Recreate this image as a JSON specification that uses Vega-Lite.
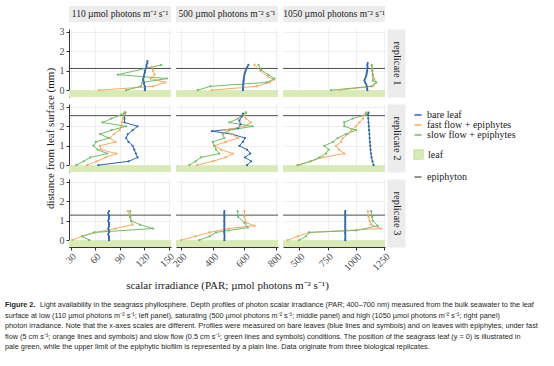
{
"$schema": "https://vega.github.io/schema/vega-lite/v6.json",
"padding": {"left": 5, "top": 5, "right": 5, "bottom": 5},
"background": "white",
"config": {
 "view": {"stroke": null},
 "font": "Liberation Serif",
 "axis": {"labelFont": "Liberation Serif", "labelFontSize": 10, "labelColor": "#4d4d4d", "titleFont": "Liberation Serif", "titleFontSize": 11, "titleFontWeight": "normal", "titleColor": "#1a1a1a", "domainColor": "#333333", "tickColor": "#333333", "tickSize": 3, "gridColor": "#ebebeb", "gridWidth": 0.8, "format": "d"},
 "legend": {"labelFont": "Liberation Serif", "labelFontSize": 10, "labelColor": "#1a1a1a", "rowPadding": -1.5}
},
"datasets": {
 "leaf": [{"surface": "leaf", "d": 0}],
 "epi": [{"rep": 1, "d": 1.12, "layer": "epiphyton"}, {"rep": 2, "d": 2.55, "layer": "epiphyton"}, {"rep": 3, "d": 1.29, "layer": "epiphyton"}],
 "strips": [{"light": 110, "label": "110 µmol photons m⁻² s⁻¹"}, {"light": 500, "label": "500 µmol photons m⁻² s⁻¹"}, {"light": 1050, "label": "1050 µmol photons m⁻² s⁻¹"}],
 "caption": [
  {"line": 1, "part": "head", "text": "Figure 2."},
  {"line": 1, "part": "first", "text": "Light availability in the seagrass phyllosphere. Depth profiles of photon scalar irradiance (PAR; 400–700 nm) measured from the bulk seawater to the leaf"},
  {"line": 2, "part": "body", "text": "surface at low (110 µmol photons m⁻² s⁻¹; left panel), saturating (500 µmol photons m⁻² s⁻¹; middle panel) and high (1050 µmol photons m⁻² s⁻¹; right panel)"},
  {"line": 3, "part": "body", "text": "photon irradiance. Note that the x-axes scales are different. Profiles were measured on bare leaves (blue lines and symbols) and on leaves with epiphytes, under fast"},
  {"line": 4, "part": "body", "text": "flow (5 cm s⁻¹; orange lines and symbols) and slow flow (0.5 cm s⁻¹; green lines and symbols) conditions. The position of the seagrass leaf (y = 0) is illustrated in"},
  {"line": 5, "part": "body", "text": "pale green, while the upper limit of the epiphytic biofilm is represented by a plain line. Data originate from three biological replicates."}
 ],
 "prof": [
  {"light":110,"rep":1,"series":"bare leaf","d":0,"par":121},{"light":110,"rep":1,"series":"bare leaf","d":0.1,"par":121},{"light":110,"rep":1,"series":"bare leaf","d":0.2,"par":121},{"light":110,"rep":1,"series":"bare leaf","d":0.3,"par":120},{"light":110,"rep":1,"series":"bare leaf","d":0.4,"par":120},{"light":110,"rep":1,"series":"bare leaf","d":0.5,"par":119},{"light":110,"rep":1,"series":"bare leaf","d":0.6,"par":119},{"light":110,"rep":1,"series":"bare leaf","d":0.7,"par":120},{"light":110,"rep":1,"series":"bare leaf","d":0.8,"par":120},{"light":110,"rep":1,"series":"bare leaf","d":0.9,"par":121},{"light":110,"rep":1,"series":"bare leaf","d":1.0,"par":121},{"light":110,"rep":1,"series":"bare leaf","d":1.1,"par":122},{"light":110,"rep":1,"series":"bare leaf","d":1.2,"par":123},{"light":110,"rep":1,"series":"bare leaf","d":1.3,"par":123},{"light":110,"rep":1,"series":"bare leaf","d":1.4,"par":124},{"light":110,"rep":1,"series":"bare leaf","d":1.5,"par":124},
  {"light":110,"rep":1,"series":"fast flow + epiphytes","d":0,"par":65},{"light":110,"rep":1,"series":"fast flow + epiphytes","d":0.2,"par":131},{"light":110,"rep":1,"series":"fast flow + epiphytes","d":0.4,"par":146},{"light":110,"rep":1,"series":"fast flow + epiphytes","d":0.6,"par":128},{"light":110,"rep":1,"series":"fast flow + epiphytes","d":0.8,"par":133},{"light":110,"rep":1,"series":"fast flow + epiphytes","d":1.0,"par":131},{"light":110,"rep":1,"series":"fast flow + epiphytes","d":1.2,"par":129},
  {"light":110,"rep":1,"series":"slow flow + epiphytes","d":0,"par":98},{"light":110,"rep":1,"series":"slow flow + epiphytes","d":0.2,"par":116},{"light":110,"rep":1,"series":"slow flow + epiphytes","d":0.4,"par":118},{"light":110,"rep":1,"series":"slow flow + epiphytes","d":0.6,"par":148},{"light":110,"rep":1,"series":"slow flow + epiphytes","d":0.8,"par":88},{"light":110,"rep":1,"series":"slow flow + epiphytes","d":1.3,"par":141},
  {"light":500,"rep":1,"series":"bare leaf","d":0,"par":590},{"light":500,"rep":1,"series":"bare leaf","d":0.1,"par":590},{"light":500,"rep":1,"series":"bare leaf","d":0.2,"par":591},{"light":500,"rep":1,"series":"bare leaf","d":0.3,"par":592},{"light":500,"rep":1,"series":"bare leaf","d":0.4,"par":593},{"light":500,"rep":1,"series":"bare leaf","d":0.5,"par":595},{"light":500,"rep":1,"series":"bare leaf","d":0.6,"par":596},{"light":500,"rep":1,"series":"bare leaf","d":0.7,"par":598},{"light":500,"rep":1,"series":"bare leaf","d":0.8,"par":600},{"light":500,"rep":1,"series":"bare leaf","d":0.9,"par":603},{"light":500,"rep":1,"series":"bare leaf","d":1.0,"par":607},{"light":500,"rep":1,"series":"bare leaf","d":1.1,"par":612},{"light":500,"rep":1,"series":"bare leaf","d":1.2,"par":618},{"light":500,"rep":1,"series":"bare leaf","d":1.3,"par":625},
  {"light":500,"rep":1,"series":"fast flow + epiphytes","d":0,"par":393},{"light":500,"rep":1,"series":"fast flow + epiphytes","d":0.2,"par":679},{"light":500,"rep":1,"series":"fast flow + epiphytes","d":0.4,"par":760},{"light":500,"rep":1,"series":"fast flow + epiphytes","d":0.55,"par":787},{"light":500,"rep":1,"series":"fast flow + epiphytes","d":0.7,"par":747},{"light":500,"rep":1,"series":"fast flow + epiphytes","d":1.0,"par":700},{"light":500,"rep":1,"series":"fast flow + epiphytes","d":1.3,"par":663},
  {"light":500,"rep":1,"series":"slow flow + epiphytes","d":0,"par":304},{"light":500,"rep":1,"series":"slow flow + epiphytes","d":0.2,"par":384},{"light":500,"rep":1,"series":"slow flow + epiphytes","d":0.4,"par":740},{"light":500,"rep":1,"series":"slow flow + epiphytes","d":0.6,"par":790},{"light":500,"rep":1,"series":"slow flow + epiphytes","d":0.8,"par":750},{"light":500,"rep":1,"series":"slow flow + epiphytes","d":1.05,"par":705},{"light":500,"rep":1,"series":"slow flow + epiphytes","d":1.3,"par":688},
  {"light":1050,"rep":1,"series":"bare leaf","d":0,"par":1100},{"light":1050,"rep":1,"series":"bare leaf","d":0.1,"par":1098},{"light":1050,"rep":1,"series":"bare leaf","d":0.2,"par":1095},{"light":1050,"rep":1,"series":"bare leaf","d":0.3,"par":1090},{"light":1050,"rep":1,"series":"bare leaf","d":0.4,"par":1080},{"light":1050,"rep":1,"series":"bare leaf","d":0.5,"par":1074},{"light":1050,"rep":1,"series":"bare leaf","d":0.6,"par":1080},{"light":1050,"rep":1,"series":"bare leaf","d":0.7,"par":1088},{"light":1050,"rep":1,"series":"bare leaf","d":0.8,"par":1092},{"light":1050,"rep":1,"series":"bare leaf","d":0.9,"par":1095},{"light":1050,"rep":1,"series":"bare leaf","d":1.0,"par":1098},{"light":1050,"rep":1,"series":"bare leaf","d":1.1,"par":1100},{"light":1050,"rep":1,"series":"bare leaf","d":1.2,"par":1102},{"light":1050,"rep":1,"series":"bare leaf","d":1.3,"par":1100},{"light":1050,"rep":1,"series":"bare leaf","d":1.4,"par":1103},
  {"light":1050,"rep":1,"series":"fast flow + epiphytes","d":0,"par":850},{"light":1050,"rep":1,"series":"fast flow + epiphytes","d":0.2,"par":1150},{"light":1050,"rep":1,"series":"fast flow + epiphytes","d":0.4,"par":1177},{"light":1050,"rep":1,"series":"fast flow + epiphytes","d":0.6,"par":1160},{"light":1050,"rep":1,"series":"fast flow + epiphytes","d":0.8,"par":1150},{"light":1050,"rep":1,"series":"fast flow + epiphytes","d":1.0,"par":1145},{"light":1050,"rep":1,"series":"fast flow + epiphytes","d":1.2,"par":1140},
  {"light":1050,"rep":1,"series":"slow flow + epiphytes","d":0,"par":780},{"light":1050,"rep":1,"series":"slow flow + epiphytes","d":0.2,"par":1133},{"light":1050,"rep":1,"series":"slow flow + epiphytes","d":0.4,"par":1177},{"light":1050,"rep":1,"series":"slow flow + epiphytes","d":0.5,"par":1148},{"light":1050,"rep":1,"series":"slow flow + epiphytes","d":0.8,"par":1146},{"light":1050,"rep":1,"series":"slow flow + epiphytes","d":1.0,"par":1143},{"light":1050,"rep":1,"series":"slow flow + epiphytes","d":1.3,"par":1139},
  {"light":110,"rep":2,"series":"bare leaf","d":0,"par":64},{"light":110,"rep":2,"series":"bare leaf","d":0.2,"par":101},{"light":110,"rep":2,"series":"bare leaf","d":0.4,"par":112},{"light":110,"rep":2,"series":"bare leaf","d":0.6,"par":110},{"light":110,"rep":2,"series":"bare leaf","d":0.8,"par":108},{"light":110,"rep":2,"series":"bare leaf","d":1.0,"par":106},{"light":110,"rep":2,"series":"bare leaf","d":1.2,"par":101},{"light":110,"rep":2,"series":"bare leaf","d":1.4,"par":98},{"light":110,"rep":2,"series":"bare leaf","d":1.6,"par":100},{"light":110,"rep":2,"series":"bare leaf","d":1.8,"par":106},{"light":110,"rep":2,"series":"bare leaf","d":2.0,"par":112},{"light":110,"rep":2,"series":"bare leaf","d":2.2,"par":96},{"light":110,"rep":2,"series":"bare leaf","d":2.4,"par":96},{"light":110,"rep":2,"series":"bare leaf","d":2.6,"par":96},{"light":110,"rep":2,"series":"bare leaf","d":2.7,"par":97},
  {"light":110,"rep":2,"series":"fast flow + epiphytes","d":0,"par":50},{"light":110,"rep":2,"series":"fast flow + epiphytes","d":0.2,"par":62},{"light":110,"rep":2,"series":"fast flow + epiphytes","d":0.4,"par":73},{"light":110,"rep":2,"series":"fast flow + epiphytes","d":0.6,"par":86},{"light":110,"rep":2,"series":"fast flow + epiphytes","d":0.8,"par":67},{"light":110,"rep":2,"series":"fast flow + epiphytes","d":1.0,"par":66},{"light":110,"rep":2,"series":"fast flow + epiphytes","d":1.2,"par":85},{"light":110,"rep":2,"series":"fast flow + epiphytes","d":1.4,"par":78},{"light":110,"rep":2,"series":"fast flow + epiphytes","d":1.6,"par":83},{"light":110,"rep":2,"series":"fast flow + epiphytes","d":1.8,"par":90},{"light":110,"rep":2,"series":"fast flow + epiphytes","d":2.0,"par":92},{"light":110,"rep":2,"series":"fast flow + epiphytes","d":2.2,"par":93},{"light":110,"rep":2,"series":"fast flow + epiphytes","d":2.4,"par":94},{"light":110,"rep":2,"series":"fast flow + epiphytes","d":2.6,"par":96},{"light":110,"rep":2,"series":"fast flow + epiphytes","d":2.7,"par":97},
  {"light":110,"rep":2,"series":"slow flow + epiphytes","d":0,"par":37},{"light":110,"rep":2,"series":"slow flow + epiphytes","d":0.2,"par":46},{"light":110,"rep":2,"series":"slow flow + epiphytes","d":0.4,"par":54},{"light":110,"rep":2,"series":"slow flow + epiphytes","d":0.6,"par":75},{"light":110,"rep":2,"series":"slow flow + epiphytes","d":0.8,"par":63},{"light":110,"rep":2,"series":"slow flow + epiphytes","d":1.0,"par":58},{"light":110,"rep":2,"series":"slow flow + epiphytes","d":1.2,"par":61},{"light":110,"rep":2,"series":"slow flow + epiphytes","d":1.4,"par":77},{"light":110,"rep":2,"series":"slow flow + epiphytes","d":1.6,"par":66},{"light":110,"rep":2,"series":"slow flow + epiphytes","d":1.8,"par":80},{"light":110,"rep":2,"series":"slow flow + epiphytes","d":2.0,"par":98},{"light":110,"rep":2,"series":"slow flow + epiphytes","d":2.2,"par":69},{"light":110,"rep":2,"series":"slow flow + epiphytes","d":2.4,"par":80},{"light":110,"rep":2,"series":"slow flow + epiphytes","d":2.6,"par":92},{"light":110,"rep":2,"series":"slow flow + epiphytes","d":2.7,"par":96},
  {"light":500,"rep":2,"series":"bare leaf","d":0,"par":616},{"light":500,"rep":2,"series":"bare leaf","d":0.2,"par":642},{"light":500,"rep":2,"series":"bare leaf","d":0.4,"par":604},{"light":500,"rep":2,"series":"bare leaf","d":0.6,"par":637},{"light":500,"rep":2,"series":"bare leaf","d":0.8,"par":616},{"light":500,"rep":2,"series":"bare leaf","d":1.0,"par":568},{"light":500,"rep":2,"series":"bare leaf","d":1.2,"par":590},{"light":500,"rep":2,"series":"bare leaf","d":1.4,"par":604},{"light":500,"rep":2,"series":"bare leaf","d":1.6,"par":520},{"light":500,"rep":2,"series":"bare leaf","d":1.75,"par":395},{"light":500,"rep":2,"series":"bare leaf","d":1.9,"par":560},{"light":500,"rep":2,"series":"bare leaf","d":2.1,"par":575},{"light":500,"rep":2,"series":"bare leaf","d":2.3,"par":568},{"light":500,"rep":2,"series":"bare leaf","d":2.5,"par":583},{"light":500,"rep":2,"series":"bare leaf","d":2.65,"par":590},
  {"light":500,"rep":2,"series":"fast flow + epiphytes","d":0,"par":300},{"light":500,"rep":2,"series":"fast flow + epiphytes","d":0.2,"par":400},{"light":500,"rep":2,"series":"fast flow + epiphytes","d":0.4,"par":480},{"light":500,"rep":2,"series":"fast flow + epiphytes","d":0.6,"par":526},{"light":500,"rep":2,"series":"fast flow + epiphytes","d":0.8,"par":452},{"light":500,"rep":2,"series":"fast flow + epiphytes","d":1.0,"par":409},{"light":500,"rep":2,"series":"fast flow + epiphytes","d":1.2,"par":480},{"light":500,"rep":2,"series":"fast flow + epiphytes","d":1.4,"par":560},{"light":500,"rep":2,"series":"fast flow + epiphytes","d":1.6,"par":520},{"light":500,"rep":2,"series":"fast flow + epiphytes","d":1.8,"par":470},{"light":500,"rep":2,"series":"fast flow + epiphytes","d":2.0,"par":600},{"light":500,"rep":2,"series":"fast flow + epiphytes","d":2.2,"par":640},{"light":500,"rep":2,"series":"fast flow + epiphytes","d":2.4,"par":610},{"light":500,"rep":2,"series":"fast flow + epiphytes","d":2.6,"par":600},{"light":500,"rep":2,"series":"fast flow + epiphytes","d":2.7,"par":610},
  {"light":500,"rep":2,"series":"slow flow + epiphytes","d":0,"par":251},{"light":500,"rep":2,"series":"slow flow + epiphytes","d":0.2,"par":290},{"light":500,"rep":2,"series":"slow flow + epiphytes","d":0.4,"par":325},{"light":500,"rep":2,"series":"slow flow + epiphytes","d":0.6,"par":441},{"light":500,"rep":2,"series":"slow flow + epiphytes","d":0.8,"par":420},{"light":500,"rep":2,"series":"slow flow + epiphytes","d":1.0,"par":410},{"light":500,"rep":2,"series":"slow flow + epiphytes","d":1.2,"par":399},{"light":500,"rep":2,"series":"slow flow + epiphytes","d":1.4,"par":473},{"light":500,"rep":2,"series":"slow flow + epiphytes","d":1.6,"par":462},{"light":500,"rep":2,"series":"slow flow + epiphytes","d":1.8,"par":504},{"light":500,"rep":2,"series":"slow flow + epiphytes","d":2.0,"par":652},{"light":500,"rep":2,"series":"slow flow + epiphytes","d":2.2,"par":504},{"light":500,"rep":2,"series":"slow flow + epiphytes","d":2.4,"par":560},{"light":500,"rep":2,"series":"slow flow + epiphytes","d":2.6,"par":589},{"light":500,"rep":2,"series":"slow flow + epiphytes","d":2.7,"par":610},
  {"light":1050,"rep":2,"series":"bare leaf","d":0,"par":1155},{"light":1050,"rep":2,"series":"bare leaf","d":0.2,"par":1145},{"light":1050,"rep":2,"series":"bare leaf","d":0.4,"par":1137},{"light":1050,"rep":2,"series":"bare leaf","d":0.6,"par":1132},{"light":1050,"rep":2,"series":"bare leaf","d":0.8,"par":1128},{"light":1050,"rep":2,"series":"bare leaf","d":1.0,"par":1125},{"light":1050,"rep":2,"series":"bare leaf","d":1.2,"par":1122},{"light":1050,"rep":2,"series":"bare leaf","d":1.4,"par":1120},{"light":1050,"rep":2,"series":"bare leaf","d":1.6,"par":1118},{"light":1050,"rep":2,"series":"bare leaf","d":1.8,"par":1115},{"light":1050,"rep":2,"series":"bare leaf","d":2.0,"par":1113},{"light":1050,"rep":2,"series":"bare leaf","d":2.2,"par":1110},{"light":1050,"rep":2,"series":"bare leaf","d":2.4,"par":1108},{"light":1050,"rep":2,"series":"bare leaf","d":2.6,"par":1105},{"light":1050,"rep":2,"series":"bare leaf","d":2.7,"par":1110},
  {"light":1050,"rep":2,"series":"fast flow + epiphytes","d":0,"par":500},{"light":1050,"rep":2,"series":"fast flow + epiphytes","d":0.2,"par":600},{"light":1050,"rep":2,"series":"fast flow + epiphytes","d":0.4,"par":707},{"light":1050,"rep":2,"series":"fast flow + epiphytes","d":0.6,"par":897},{"light":1050,"rep":2,"series":"fast flow + epiphytes","d":0.8,"par":850},{"light":1050,"rep":2,"series":"fast flow + epiphytes","d":1.0,"par":824},{"light":1050,"rep":2,"series":"fast flow + epiphytes","d":1.2,"par":870},{"light":1050,"rep":2,"series":"fast flow + epiphytes","d":1.4,"par":883},{"light":1050,"rep":2,"series":"fast flow + epiphytes","d":1.6,"par":930},{"light":1050,"rep":2,"series":"fast flow + epiphytes","d":1.8,"par":960},{"light":1050,"rep":2,"series":"fast flow + epiphytes","d":2.0,"par":1001},{"light":1050,"rep":2,"series":"fast flow + epiphytes","d":2.2,"par":1030},{"light":1050,"rep":2,"series":"fast flow + epiphytes","d":2.4,"par":1060},{"light":1050,"rep":2,"series":"fast flow + epiphytes","d":2.6,"par":1074},{"light":1050,"rep":2,"series":"fast flow + epiphytes","d":2.7,"par":1090},
  {"light":1050,"rep":2,"series":"slow flow + epiphytes","d":0,"par":486},{"light":1050,"rep":2,"series":"slow flow + epiphytes","d":0.2,"par":603},{"light":1050,"rep":2,"series":"slow flow + epiphytes","d":0.4,"par":680},{"light":1050,"rep":2,"series":"slow flow + epiphytes","d":0.6,"par":736},{"light":1050,"rep":2,"series":"slow flow + epiphytes","d":0.8,"par":760},{"light":1050,"rep":2,"series":"slow flow + epiphytes","d":1.0,"par":721},{"light":1050,"rep":2,"series":"slow flow + epiphytes","d":1.2,"par":800},{"light":1050,"rep":2,"series":"slow flow + epiphytes","d":1.4,"par":839},{"light":1050,"rep":2,"series":"slow flow + epiphytes","d":1.6,"par":912},{"light":1050,"rep":2,"series":"slow flow + epiphytes","d":1.8,"par":1001},{"light":1050,"rep":2,"series":"slow flow + epiphytes","d":2.0,"par":897},{"light":1050,"rep":2,"series":"slow flow + epiphytes","d":2.2,"par":897},{"light":1050,"rep":2,"series":"slow flow + epiphytes","d":2.4,"par":971},{"light":1050,"rep":2,"series":"slow flow + epiphytes","d":2.6,"par":1089},{"light":1050,"rep":2,"series":"slow flow + epiphytes","d":2.7,"par":1090},
  {"light":110,"rep":3,"series":"bare leaf","d":0,"par":77},{"light":110,"rep":3,"series":"bare leaf","d":0.1,"par":77},{"light":110,"rep":3,"series":"bare leaf","d":0.2,"par":77},{"light":110,"rep":3,"series":"bare leaf","d":0.3,"par":76},{"light":110,"rep":3,"series":"bare leaf","d":0.4,"par":77},{"light":110,"rep":3,"series":"bare leaf","d":0.5,"par":77},{"light":110,"rep":3,"series":"bare leaf","d":0.6,"par":76},{"light":110,"rep":3,"series":"bare leaf","d":0.7,"par":77},{"light":110,"rep":3,"series":"bare leaf","d":0.8,"par":77},{"light":110,"rep":3,"series":"bare leaf","d":0.9,"par":77},{"light":110,"rep":3,"series":"bare leaf","d":1.0,"par":76},{"light":110,"rep":3,"series":"bare leaf","d":1.1,"par":77},{"light":110,"rep":3,"series":"bare leaf","d":1.2,"par":77},{"light":110,"rep":3,"series":"bare leaf","d":1.3,"par":77},{"light":110,"rep":3,"series":"bare leaf","d":1.4,"par":76},{"light":110,"rep":3,"series":"bare leaf","d":1.5,"par":77},
  {"light":110,"rep":3,"series":"fast flow + epiphytes","d":0,"par":32},{"light":110,"rep":3,"series":"fast flow + epiphytes","d":0.2,"par":44},{"light":110,"rep":3,"series":"fast flow + epiphytes","d":0.4,"par":60},{"light":110,"rep":3,"series":"fast flow + epiphytes","d":0.6,"par":85},{"light":110,"rep":3,"series":"fast flow + epiphytes","d":0.8,"par":106},{"light":110,"rep":3,"series":"fast flow + epiphytes","d":1.0,"par":104},{"light":110,"rep":3,"series":"fast flow + epiphytes","d":1.2,"par":103},{"light":110,"rep":3,"series":"fast flow + epiphytes","d":1.5,"par":100},
  {"light":110,"rep":3,"series":"slow flow + epiphytes","d":0,"par":53},{"light":110,"rep":3,"series":"slow flow + epiphytes","d":0.2,"par":44},{"light":110,"rep":3,"series":"slow flow + epiphytes","d":0.4,"par":59},{"light":110,"rep":3,"series":"slow flow + epiphytes","d":0.6,"par":131},{"light":110,"rep":3,"series":"slow flow + epiphytes","d":0.8,"par":115},{"light":110,"rep":3,"series":"slow flow + epiphytes","d":1.0,"par":104},{"light":110,"rep":3,"series":"slow flow + epiphytes","d":1.2,"par":103},{"light":110,"rep":3,"series":"slow flow + epiphytes","d":1.5,"par":103},
  {"light":500,"rep":3,"series":"bare leaf","d":0,"par":473},{"light":500,"rep":3,"series":"bare leaf","d":0.1,"par":473},{"light":500,"rep":3,"series":"bare leaf","d":0.2,"par":474},{"light":500,"rep":3,"series":"bare leaf","d":0.3,"par":473},{"light":500,"rep":3,"series":"bare leaf","d":0.4,"par":472},{"light":500,"rep":3,"series":"bare leaf","d":0.5,"par":473},{"light":500,"rep":3,"series":"bare leaf","d":0.6,"par":473},{"light":500,"rep":3,"series":"bare leaf","d":0.7,"par":472},{"light":500,"rep":3,"series":"bare leaf","d":0.8,"par":473},{"light":500,"rep":3,"series":"bare leaf","d":0.9,"par":473},{"light":500,"rep":3,"series":"bare leaf","d":1.0,"par":472},{"light":500,"rep":3,"series":"bare leaf","d":1.1,"par":473},{"light":500,"rep":3,"series":"bare leaf","d":1.2,"par":473},{"light":500,"rep":3,"series":"bare leaf","d":1.3,"par":473},{"light":500,"rep":3,"series":"bare leaf","d":1.4,"par":472},{"light":500,"rep":3,"series":"bare leaf","d":1.5,"par":473},
  {"light":500,"rep":3,"series":"fast flow + epiphytes","d":0,"par":199},{"light":500,"rep":3,"series":"fast flow + epiphytes","d":0.2,"par":290},{"light":500,"rep":3,"series":"fast flow + epiphytes","d":0.4,"par":378},{"light":500,"rep":3,"series":"fast flow + epiphytes","d":0.6,"par":500},{"light":500,"rep":3,"series":"fast flow + epiphytes","d":0.75,"par":663},{"light":500,"rep":3,"series":"fast flow + epiphytes","d":0.9,"par":610},{"light":500,"rep":3,"series":"fast flow + epiphytes","d":1.2,"par":600},{"light":500,"rep":3,"series":"fast flow + epiphytes","d":1.5,"par":599},
  {"light":500,"rep":3,"series":"slow flow + epiphytes","d":0,"par":314},{"light":500,"rep":3,"series":"slow flow + epiphytes","d":0.2,"par":380},{"light":500,"rep":3,"series":"slow flow + epiphytes","d":0.4,"par":420},{"light":500,"rep":3,"series":"slow flow + epiphytes","d":0.5,"par":500},{"light":500,"rep":3,"series":"slow flow + epiphytes","d":0.65,"par":621},{"light":500,"rep":3,"series":"slow flow + epiphytes","d":0.9,"par":600},{"light":500,"rep":3,"series":"slow flow + epiphytes","d":1.2,"par":560},{"light":500,"rep":3,"series":"slow flow + epiphytes","d":1.5,"par":557},
  {"light":1050,"rep":3,"series":"bare leaf","d":0,"par":906},{"light":1050,"rep":3,"series":"bare leaf","d":0.1,"par":906},{"light":1050,"rep":3,"series":"bare leaf","d":0.2,"par":907},{"light":1050,"rep":3,"series":"bare leaf","d":0.3,"par":906},{"light":1050,"rep":3,"series":"bare leaf","d":0.4,"par":905},{"light":1050,"rep":3,"series":"bare leaf","d":0.5,"par":906},{"light":1050,"rep":3,"series":"bare leaf","d":0.6,"par":906},{"light":1050,"rep":3,"series":"bare leaf","d":0.7,"par":905},{"light":1050,"rep":3,"series":"bare leaf","d":0.8,"par":906},{"light":1050,"rep":3,"series":"bare leaf","d":0.9,"par":906},{"light":1050,"rep":3,"series":"bare leaf","d":1.0,"par":905},{"light":1050,"rep":3,"series":"bare leaf","d":1.1,"par":906},{"light":1050,"rep":3,"series":"bare leaf","d":1.2,"par":906},{"light":1050,"rep":3,"series":"bare leaf","d":1.3,"par":906},{"light":1050,"rep":3,"series":"bare leaf","d":1.4,"par":905},{"light":1050,"rep":3,"series":"bare leaf","d":1.5,"par":906},
  {"light":1050,"rep":3,"series":"fast flow + epiphytes","d":0,"par":398},{"light":1050,"rep":3,"series":"fast flow + epiphytes","d":0.2,"par":490},{"light":1050,"rep":3,"series":"fast flow + epiphytes","d":0.4,"par":588},{"light":1050,"rep":3,"series":"fast flow + epiphytes","d":0.6,"par":1221},{"light":1050,"rep":3,"series":"fast flow + epiphytes","d":0.8,"par":1133},{"light":1050,"rep":3,"series":"fast flow + epiphytes","d":1.0,"par":1120},{"light":1050,"rep":3,"series":"fast flow + epiphytes","d":1.2,"par":1110},{"light":1050,"rep":3,"series":"fast flow + epiphytes","d":1.5,"par":1104},
  {"light":1050,"rep":3,"series":"slow flow + epiphytes","d":0,"par":500},{"light":1050,"rep":3,"series":"slow flow + epiphytes","d":0.2,"par":560},{"light":1050,"rep":3,"series":"slow flow + epiphytes","d":0.4,"par":588},{"light":1050,"rep":3,"series":"slow flow + epiphytes","d":0.5,"par":1001},{"light":1050,"rep":3,"series":"slow flow + epiphytes","d":0.74,"par":1192},{"light":1050,"rep":3,"series":"slow flow + epiphytes","d":1.0,"par":1148},{"light":1050,"rep":3,"series":"slow flow + epiphytes","d":1.2,"par":1140},{"light":1050,"rep":3,"series":"slow flow + epiphytes","d":1.5,"par":1133}
 ]
},
"spacing": 10,
"vconcat": [
 {"spacing": 0, "hconcat": [
  {"width": 38, "height": 10, "data": {"values": [{}]}, "mark": {"type": "text"}, "encoding": {"text": {"value": ""}}},
  {"columns": 3, "spacing": {"row": 7, "column": 5}, "bounds": "flush", "concat": [
   {"width": 102, "height": 16, "view": {"fill": "#ececec"}, "data": {"name": "strips"}, "transform": [{"filter": "datum.light == 110"}], "mark": {"type": "text", "font": "Liberation Serif", "fontSize": 9.5, "color": "#1a1a1a", "baseline": "middle"}, "encoding": {"text": {"field": "label"}}},
   {"width": 102, "height": 16, "view": {"fill": "#ececec"}, "data": {"name": "strips"}, "transform": [{"filter": "datum.light == 500"}], "mark": {"type": "text", "font": "Liberation Serif", "fontSize": 9.5, "color": "#1a1a1a", "baseline": "middle"}, "encoding": {"text": {"field": "label"}}},
   {"width": 102, "height": 16, "view": {"fill": "#ececec"}, "data": {"name": "strips"}, "transform": [{"filter": "datum.light == 1050"}], "mark": {"type": "text", "font": "Liberation Serif", "fontSize": 9.5, "color": "#1a1a1a", "baseline": "middle"}, "encoding": {"text": {"field": "label"}}},
   {"width": 102, "height": 68,
    "encoding": {"y": {"field": "d", "type": "quantitative", "scale": {"domain": [-0.35, 3.15], "nice": false, "zero": false}, "axis": {"values": [0,1,2,3], "title": null, "grid": true, "labelPadding": 2}}},
    "layer": [
     {"data": {"name": "leaf"}, "mark": {"type": "rect", "clip": true}, "encoding": {"y2": {"datum": -0.35}, "fill": {"field": "surface", "type": "nominal", "scale": {"domain": ["leaf"], "range": ["#d8ebb4"]}, "legend": {"orient": "none", "legendX": 408, "legendY": 143, "title": null, "symbolType": "square", "symbolSize": 90, "symbolStrokeColor": "#bcdc8e", "symbolStrokeWidth": 0.8}}}},
     {"data": {"name": "epi"}, "transform": [{"filter": "datum.rep == 1"}], "mark": {"type": "rule", "strokeWidth": 1}, "encoding": {"stroke": {"field": "layer", "type": "nominal", "scale": {"domain": ["epiphyton"], "range": ["#4d4d4d"]}, "legend": {"orient": "none", "legendX": 408, "legendY": 166, "title": null, "symbolType": "stroke", "symbolSize": 50, "symbolStrokeWidth": 1.2}}}},
     {"data": {"name": "prof"}, "transform": [{"filter": "datum.light == 110 && datum.rep == 1"}], "mark": {"type": "line", "strokeWidth": 1, "clip": true, "point": {"filled": true, "size": 5}}, "encoding": {
      "x": {"field": "par", "type": "quantitative", "scale": {"domain": [28, 153], "nice": false, "zero": false}, "axis": {"values": [30,60,90,120,150], "labels": false, "ticks": false, "domain": false, "grid": true, "title": null}},
      "color": {"field": "series", "type": "nominal", "scale": {"domain": ["bare leaf", "fast flow + epiphytes", "slow flow + epiphytes"], "range": ["#2c68b0", "#f8a95e", "#6dbf68"]}, "legend": {"orient": "none", "legendX": 408, "legendY": 104, "title": null, "symbolType": "stroke", "symbolSize": 50, "symbolStrokeWidth": 1.5}},
      "order": {"field": "d", "type": "quantitative"}}}
    ]},
   {"width": 102, "height": 68,
    "encoding": {"y": {"field": "d", "type": "quantitative", "scale": {"domain": [-0.35, 3.15], "nice": false, "zero": false}, "axis": {"values": [0,1,2,3], "title": null, "grid": true, "labels": false, "ticks": false, "domain": false}}},
    "layer": [
     {"data": {"name": "leaf"}, "mark": {"type": "rect", "clip": true}, "encoding": {"y2": {"datum": -0.35}, "fill": {"field": "surface", "type": "nominal", "scale": {"domain": ["leaf"], "range": ["#d8ebb4"]}, "legend": {"orient": "none", "legendX": 408, "legendY": 143, "title": null, "symbolType": "square", "symbolSize": 90, "symbolStrokeColor": "#bcdc8e", "symbolStrokeWidth": 0.8}}}},
     {"data": {"name": "epi"}, "transform": [{"filter": "datum.rep == 1"}], "mark": {"type": "rule", "strokeWidth": 1}, "encoding": {"stroke": {"field": "layer", "type": "nominal", "scale": {"domain": ["epiphyton"], "range": ["#4d4d4d"]}, "legend": {"orient": "none", "legendX": 408, "legendY": 166, "title": null, "symbolType": "stroke", "symbolSize": 50, "symbolStrokeWidth": 1.2}}}},
     {"data": {"name": "prof"}, "transform": [{"filter": "datum.light == 500 && datum.rep == 1"}], "mark": {"type": "line", "strokeWidth": 1, "clip": true, "point": {"filled": true, "size": 5}}, "encoding": {
      "x": {"field": "par", "type": "quantitative", "scale": {"domain": [167, 812], "nice": false, "zero": false}, "axis": {"values": [200,400,600,800], "labels": false, "ticks": false, "domain": false, "grid": true, "title": null}},
      "color": {"field": "series", "type": "nominal", "scale": {"domain": ["bare leaf", "fast flow + epiphytes", "slow flow + epiphytes"], "range": ["#2c68b0", "#f8a95e", "#6dbf68"]}, "legend": {"orient": "none", "legendX": 408, "legendY": 104, "title": null, "symbolType": "stroke", "symbolSize": 50, "symbolStrokeWidth": 1.5}},
      "order": {"field": "d", "type": "quantitative"}}}
    ]},
   {"width": 102, "height": 68,
    "encoding": {"y": {"field": "d", "type": "quantitative", "scale": {"domain": [-0.35, 3.15], "nice": false, "zero": false}, "axis": {"orient": "right", "values": [0,1,2,3], "labels": false, "ticks": false, "domain": true, "domainColor": "#ececec", "domainWidth": 18, "offset": 11, "grid": true, "title": "replicate 1", "titleAngle": 90, "titleX": 0, "titleY": 34, "titleAlign": "center", "titleBaseline": "middle", "titleFontSize": 10.5}}},
    "layer": [
     {"data": {"name": "leaf"}, "mark": {"type": "rect", "clip": true}, "encoding": {"y2": {"datum": -0.35}, "fill": {"field": "surface", "type": "nominal", "scale": {"domain": ["leaf"], "range": ["#d8ebb4"]}, "legend": {"orient": "none", "legendX": 408, "legendY": 143, "title": null, "symbolType": "square", "symbolSize": 90, "symbolStrokeColor": "#bcdc8e", "symbolStrokeWidth": 0.8}}}},
     {"data": {"name": "epi"}, "transform": [{"filter": "datum.rep == 1"}], "mark": {"type": "rule", "strokeWidth": 1}, "encoding": {"stroke": {"field": "layer", "type": "nominal", "scale": {"domain": ["epiphyton"], "range": ["#4d4d4d"]}, "legend": {"orient": "none", "legendX": 408, "legendY": 166, "title": null, "symbolType": "stroke", "symbolSize": 50, "symbolStrokeWidth": 1.2}}}},
     {"data": {"name": "prof"}, "transform": [{"filter": "datum.light == 1050 && datum.rep == 1"}], "mark": {"type": "line", "strokeWidth": 1, "clip": true, "point": {"filled": true, "size": 5}}, "encoding": {
      "x": {"field": "par", "type": "quantitative", "scale": {"domain": [359, 1255], "nice": false, "zero": false}, "axis": {"values": [500,750,1000,1250], "labels": false, "ticks": false, "domain": false, "grid": true, "title": null}},
      "color": {"field": "series", "type": "nominal", "scale": {"domain": ["bare leaf", "fast flow + epiphytes", "slow flow + epiphytes"], "range": ["#2c68b0", "#f8a95e", "#6dbf68"]}, "legend": {"orient": "none", "legendX": 408, "legendY": 104, "title": null, "symbolType": "stroke", "symbolSize": 50, "symbolStrokeWidth": 1.5}},
      "order": {"field": "d", "type": "quantitative"}}}
    ]},
   {"width": 102, "height": 68,
    "encoding": {"y": {"field": "d", "type": "quantitative", "scale": {"domain": [-0.35, 3.15], "nice": false, "zero": false}, "axis": {"values": [0,1,2,3], "title": "distance from leaf surface (mm)", "titlePadding": 4, "grid": true, "labelPadding": 2}}},
    "layer": [
     {"data": {"name": "leaf"}, "mark": {"type": "rect", "clip": true}, "encoding": {"y2": {"datum": -0.35}, "fill": {"field": "surface", "type": "nominal", "scale": {"domain": ["leaf"], "range": ["#d8ebb4"]}, "legend": {"orient": "none", "legendX": 408, "legendY": 143, "title": null, "symbolType": "square", "symbolSize": 90, "symbolStrokeColor": "#bcdc8e", "symbolStrokeWidth": 0.8}}}},
     {"data": {"name": "epi"}, "transform": [{"filter": "datum.rep == 2"}], "mark": {"type": "rule", "strokeWidth": 1}, "encoding": {"stroke": {"field": "layer", "type": "nominal", "scale": {"domain": ["epiphyton"], "range": ["#4d4d4d"]}, "legend": {"orient": "none", "legendX": 408, "legendY": 166, "title": null, "symbolType": "stroke", "symbolSize": 50, "symbolStrokeWidth": 1.2}}}},
     {"data": {"name": "prof"}, "transform": [{"filter": "datum.light == 110 && datum.rep == 2"}], "mark": {"type": "line", "strokeWidth": 1, "clip": true, "point": {"filled": true, "size": 5}}, "encoding": {
      "x": {"field": "par", "type": "quantitative", "scale": {"domain": [28, 153], "nice": false, "zero": false}, "axis": {"values": [30,60,90,120,150], "labels": false, "ticks": false, "domain": false, "grid": true, "title": null}},
      "color": {"field": "series", "type": "nominal", "scale": {"domain": ["bare leaf", "fast flow + epiphytes", "slow flow + epiphytes"], "range": ["#2c68b0", "#f8a95e", "#6dbf68"]}, "legend": {"orient": "none", "legendX": 408, "legendY": 104, "title": null, "symbolType": "stroke", "symbolSize": 50, "symbolStrokeWidth": 1.5}},
      "order": {"field": "d", "type": "quantitative"}}}
    ]},
   {"width": 102, "height": 68,
    "encoding": {"y": {"field": "d", "type": "quantitative", "scale": {"domain": [-0.35, 3.15], "nice": false, "zero": false}, "axis": {"values": [0,1,2,3], "title": null, "grid": true, "labels": false, "ticks": false, "domain": false}}},
    "layer": [
     {"data": {"name": "leaf"}, "mark": {"type": "rect", "clip": true}, "encoding": {"y2": {"datum": -0.35}, "fill": {"field": "surface", "type": "nominal", "scale": {"domain": ["leaf"], "range": ["#d8ebb4"]}, "legend": {"orient": "none", "legendX": 408, "legendY": 143, "title": null, "symbolType": "square", "symbolSize": 90, "symbolStrokeColor": "#bcdc8e", "symbolStrokeWidth": 0.8}}}},
     {"data": {"name": "epi"}, "transform": [{"filter": "datum.rep == 2"}], "mark": {"type": "rule", "strokeWidth": 1}, "encoding": {"stroke": {"field": "layer", "type": "nominal", "scale": {"domain": ["epiphyton"], "range": ["#4d4d4d"]}, "legend": {"orient": "none", "legendX": 408, "legendY": 166, "title": null, "symbolType": "stroke", "symbolSize": 50, "symbolStrokeWidth": 1.2}}}},
     {"data": {"name": "prof"}, "transform": [{"filter": "datum.light == 500 && datum.rep == 2"}], "mark": {"type": "line", "strokeWidth": 1, "clip": true, "point": {"filled": true, "size": 5}}, "encoding": {
      "x": {"field": "par", "type": "quantitative", "scale": {"domain": [167, 812], "nice": false, "zero": false}, "axis": {"values": [200,400,600,800], "labels": false, "ticks": false, "domain": false, "grid": true, "title": null}},
      "color": {"field": "series", "type": "nominal", "scale": {"domain": ["bare leaf", "fast flow + epiphytes", "slow flow + epiphytes"], "range": ["#2c68b0", "#f8a95e", "#6dbf68"]}, "legend": {"orient": "none", "legendX": 408, "legendY": 104, "title": null, "symbolType": "stroke", "symbolSize": 50, "symbolStrokeWidth": 1.5}},
      "order": {"field": "d", "type": "quantitative"}}}
    ]},
   {"width": 102, "height": 68,
    "encoding": {"y": {"field": "d", "type": "quantitative", "scale": {"domain": [-0.35, 3.15], "nice": false, "zero": false}, "axis": {"orient": "right", "values": [0,1,2,3], "labels": false, "ticks": false, "domain": true, "domainColor": "#ececec", "domainWidth": 18, "offset": 11, "grid": true, "title": "replicate 2", "titleAngle": 90, "titleX": 0, "titleY": 34, "titleAlign": "center", "titleBaseline": "middle", "titleFontSize": 10.5}}},
    "layer": [
     {"data": {"name": "leaf"}, "mark": {"type": "rect", "clip": true}, "encoding": {"y2": {"datum": -0.35}, "fill": {"field": "surface", "type": "nominal", "scale": {"domain": ["leaf"], "range": ["#d8ebb4"]}, "legend": {"orient": "none", "legendX": 408, "legendY": 143, "title": null, "symbolType": "square", "symbolSize": 90, "symbolStrokeColor": "#bcdc8e", "symbolStrokeWidth": 0.8}}}},
     {"data": {"name": "epi"}, "transform": [{"filter": "datum.rep == 2"}], "mark": {"type": "rule", "strokeWidth": 1}, "encoding": {"stroke": {"field": "layer", "type": "nominal", "scale": {"domain": ["epiphyton"], "range": ["#4d4d4d"]}, "legend": {"orient": "none", "legendX": 408, "legendY": 166, "title": null, "symbolType": "stroke", "symbolSize": 50, "symbolStrokeWidth": 1.2}}}},
     {"data": {"name": "prof"}, "transform": [{"filter": "datum.light == 1050 && datum.rep == 2"}], "mark": {"type": "line", "strokeWidth": 1, "clip": true, "point": {"filled": true, "size": 5}}, "encoding": {
      "x": {"field": "par", "type": "quantitative", "scale": {"domain": [359, 1255], "nice": false, "zero": false}, "axis": {"values": [500,750,1000,1250], "labels": false, "ticks": false, "domain": false, "grid": true, "title": null}},
      "color": {"field": "series", "type": "nominal", "scale": {"domain": ["bare leaf", "fast flow + epiphytes", "slow flow + epiphytes"], "range": ["#2c68b0", "#f8a95e", "#6dbf68"]}, "legend": {"orient": "none", "legendX": 408, "legendY": 104, "title": null, "symbolType": "stroke", "symbolSize": 50, "symbolStrokeWidth": 1.5}},
      "order": {"field": "d", "type": "quantitative"}}}
    ]},
   {"width": 102, "height": 68,
    "encoding": {"y": {"field": "d", "type": "quantitative", "scale": {"domain": [-0.35, 3.15], "nice": false, "zero": false}, "axis": {"values": [0,1,2,3], "title": null, "grid": true, "labelPadding": 2}}},
    "layer": [
     {"data": {"name": "leaf"}, "mark": {"type": "rect", "clip": true}, "encoding": {"y2": {"datum": -0.35}, "fill": {"field": "surface", "type": "nominal", "scale": {"domain": ["leaf"], "range": ["#d8ebb4"]}, "legend": {"orient": "none", "legendX": 408, "legendY": 143, "title": null, "symbolType": "square", "symbolSize": 90, "symbolStrokeColor": "#bcdc8e", "symbolStrokeWidth": 0.8}}}},
     {"data": {"name": "epi"}, "transform": [{"filter": "datum.rep == 3"}], "mark": {"type": "rule", "strokeWidth": 1}, "encoding": {"stroke": {"field": "layer", "type": "nominal", "scale": {"domain": ["epiphyton"], "range": ["#4d4d4d"]}, "legend": {"orient": "none", "legendX": 408, "legendY": 166, "title": null, "symbolType": "stroke", "symbolSize": 50, "symbolStrokeWidth": 1.2}}}},
     {"data": {"name": "prof"}, "transform": [{"filter": "datum.light == 110 && datum.rep == 3"}], "mark": {"type": "line", "strokeWidth": 1, "clip": true, "point": {"filled": true, "size": 5}}, "encoding": {
      "x": {"field": "par", "type": "quantitative", "scale": {"domain": [28, 153], "nice": false, "zero": false}, "axis": {"values": [30,60,90,120,150], "labelAngle": -45, "labelAlign": "right", "labelBaseline": "top", "labelPadding": 1, "grid": true, "title": null}},
      "color": {"field": "series", "type": "nominal", "scale": {"domain": ["bare leaf", "fast flow + epiphytes", "slow flow + epiphytes"], "range": ["#2c68b0", "#f8a95e", "#6dbf68"]}, "legend": {"orient": "none", "legendX": 408, "legendY": 104, "title": null, "symbolType": "stroke", "symbolSize": 50, "symbolStrokeWidth": 1.5}},
      "order": {"field": "d", "type": "quantitative"}}}
    ]},
   {"width": 102, "height": 68,
    "encoding": {"y": {"field": "d", "type": "quantitative", "scale": {"domain": [-0.35, 3.15], "nice": false, "zero": false}, "axis": {"values": [0,1,2,3], "title": null, "grid": true, "labels": false, "ticks": false, "domain": false}}},
    "layer": [
     {"data": {"name": "leaf"}, "mark": {"type": "rect", "clip": true}, "encoding": {"y2": {"datum": -0.35}, "fill": {"field": "surface", "type": "nominal", "scale": {"domain": ["leaf"], "range": ["#d8ebb4"]}, "legend": {"orient": "none", "legendX": 408, "legendY": 143, "title": null, "symbolType": "square", "symbolSize": 90, "symbolStrokeColor": "#bcdc8e", "symbolStrokeWidth": 0.8}}}},
     {"data": {"name": "epi"}, "transform": [{"filter": "datum.rep == 3"}], "mark": {"type": "rule", "strokeWidth": 1}, "encoding": {"stroke": {"field": "layer", "type": "nominal", "scale": {"domain": ["epiphyton"], "range": ["#4d4d4d"]}, "legend": {"orient": "none", "legendX": 408, "legendY": 166, "title": null, "symbolType": "stroke", "symbolSize": 50, "symbolStrokeWidth": 1.2}}}},
     {"data": {"name": "prof"}, "transform": [{"filter": "datum.light == 500 && datum.rep == 3"}], "mark": {"type": "line", "strokeWidth": 1, "clip": true, "point": {"filled": true, "size": 5}}, "encoding": {
      "x": {"field": "par", "type": "quantitative", "scale": {"domain": [167, 812], "nice": false, "zero": false}, "axis": {"values": [200,400,600,800], "labelAngle": -45, "labelAlign": "right", "labelBaseline": "top", "labelPadding": 1, "grid": true, "title": "scalar irradiance (PAR; µmol photons m⁻² s⁻¹)", "titlePadding": 11}},
      "color": {"field": "series", "type": "nominal", "scale": {"domain": ["bare leaf", "fast flow + epiphytes", "slow flow + epiphytes"], "range": ["#2c68b0", "#f8a95e", "#6dbf68"]}, "legend": {"orient": "none", "legendX": 408, "legendY": 104, "title": null, "symbolType": "stroke", "symbolSize": 50, "symbolStrokeWidth": 1.5}},
      "order": {"field": "d", "type": "quantitative"}}}
    ]},
   {"width": 102, "height": 68,
    "encoding": {"y": {"field": "d", "type": "quantitative", "scale": {"domain": [-0.35, 3.15], "nice": false, "zero": false}, "axis": {"orient": "right", "values": [0,1,2,3], "labels": false, "ticks": false, "domain": true, "domainColor": "#ececec", "domainWidth": 18, "offset": 11, "grid": true, "title": "replicate 3", "titleAngle": 90, "titleX": 0, "titleY": 34, "titleAlign": "center", "titleBaseline": "middle", "titleFontSize": 10.5}}},
    "layer": [
     {"data": {"name": "leaf"}, "mark": {"type": "rect", "clip": true}, "encoding": {"y2": {"datum": -0.35}, "fill": {"field": "surface", "type": "nominal", "scale": {"domain": ["leaf"], "range": ["#d8ebb4"]}, "legend": {"orient": "none", "legendX": 408, "legendY": 143, "title": null, "symbolType": "square", "symbolSize": 90, "symbolStrokeColor": "#bcdc8e", "symbolStrokeWidth": 0.8}}}},
     {"data": {"name": "epi"}, "transform": [{"filter": "datum.rep == 3"}], "mark": {"type": "rule", "strokeWidth": 1}, "encoding": {"stroke": {"field": "layer", "type": "nominal", "scale": {"domain": ["epiphyton"], "range": ["#4d4d4d"]}, "legend": {"orient": "none", "legendX": 408, "legendY": 166, "title": null, "symbolType": "stroke", "symbolSize": 50, "symbolStrokeWidth": 1.2}}}},
     {"data": {"name": "prof"}, "transform": [{"filter": "datum.light == 1050 && datum.rep == 3"}], "mark": {"type": "line", "strokeWidth": 1, "clip": true, "point": {"filled": true, "size": 5}}, "encoding": {
      "x": {"field": "par", "type": "quantitative", "scale": {"domain": [359, 1255], "nice": false, "zero": false}, "axis": {"values": [500,750,1000,1250], "labelAngle": -45, "labelAlign": "right", "labelBaseline": "top", "labelPadding": 1, "grid": true, "title": null}},
      "color": {"field": "series", "type": "nominal", "scale": {"domain": ["bare leaf", "fast flow + epiphytes", "slow flow + epiphytes"], "range": ["#2c68b0", "#f8a95e", "#6dbf68"]}, "legend": {"orient": "none", "legendX": 408, "legendY": 104, "title": null, "symbolType": "stroke", "symbolSize": 50, "symbolStrokeWidth": 1.5}},
      "order": {"field": "d", "type": "quantitative"}}}
    ]}
  ]}
 ]},
 {"width": 544, "height": 42,
  "data": {"name": "caption"},
  "encoding": {"y": {"field": "line", "type": "ordinal", "scale": {"type": "point", "padding": 0}, "axis": null}, "x": {"value": 0}, "text": {"field": "text"}},
  "layer": [
   {"transform": [{"filter": "datum.part == 'head'"}], "mark": {"type": "text", "align": "left", "baseline": "middle", "font": "Liberation Sans", "fontSize": 7.3, "fontWeight": "bold", "color": "#231f20"}},
   {"transform": [{"filter": "datum.part == 'first'"}], "mark": {"type": "text", "align": "left", "baseline": "middle", "font": "Liberation Sans", "fontSize": 7.3, "dx": 35, "color": "#231f20"}},
   {"transform": [{"filter": "datum.part == 'body'"}], "mark": {"type": "text", "align": "left", "baseline": "middle", "font": "Liberation Sans", "fontSize": 7.3, "color": "#231f20"}}
  ]}
]
}
